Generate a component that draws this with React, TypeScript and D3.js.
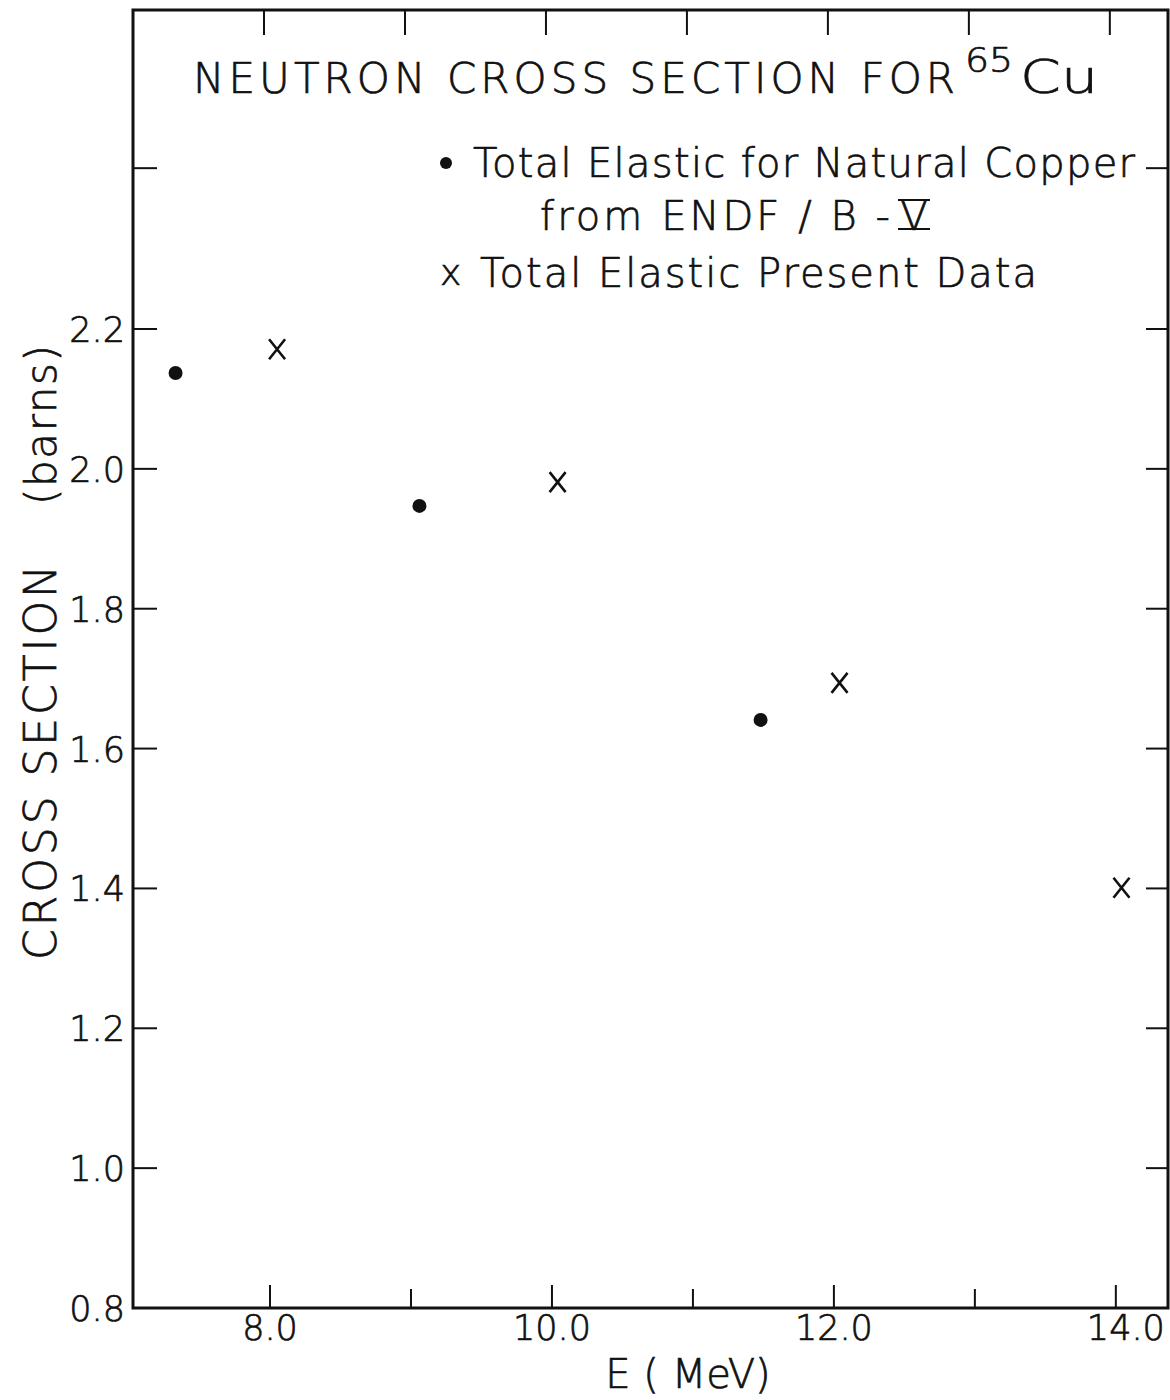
import React from 'react';
import * as d3 from 'd3';

const endfEnergy = [7.33, 9.06, 11.48];
const endfSigma = [2.137, 1.947, 1.641];
const presentEnergy = [8.05, 10.04, 12.04, 14.04];
const presentSigma = [2.171, 1.981, 1.694, 1.401];
const xMajorTicks = [8, 10, 12, 14];
const xMajorLabels = ['8.0', '10.0', '12.0', '14.0'];
const xMinorTicks = [9, 11, 13];
const yTicks = [0.8, 1.0, 1.2, 1.4, 1.6, 1.8, 2.0, 2.2, 2.43];
const yTickLabels = ['0.8', '1.0', '1.2', '1.4', '1.6', '1.8', '2.0', '2.2', ''];

const FONT = '"DejaVu Sans", Lato, sans-serif';

export default function App() {
  const left = 133, right = 1168, top = 10, bottom = 1308;
  const x = d3.scaleLinear().domain([7.028, 14.37]).range([left, right]);
  const y = d3.scaleLinear().domain([0.8, 2.2]).range([bottom, 329]);
  const sw = 3;
  const tStyle: React.CSSProperties = { fontVariantLigatures: 'none' };
  return (
    <svg width={1170} height={1400} style={{ position: 'absolute', left: 0, top: 0, background: '#fff' }}
      fontFamily={FONT} fontWeight={200} fill="#111">
      <rect x={0} y={0} width={1170} height={1400} fill="#fff" />
      {/* frame */}
      <path d={`M${left},${top}H${right}V${bottom}H${left}Z`} fill="none" stroke="#111" strokeWidth={sw} />
      {/* bottom ticks */}
      {xMajorTicks.map((t) => (
        <line key={'bx' + t} x1={x(t)} x2={x(t)} y1={bottom} y2={bottom - 23} stroke="#111" strokeWidth={2} />
      ))}
      {xMinorTicks.map((t) => (
        <line key={'bm' + t} x1={x(t)} x2={x(t)} y1={bottom} y2={bottom - 19} stroke="#111" strokeWidth={2} />
      ))}
      {/* top ticks */}
      {[...xMajorTicks, ...xMinorTicks].map((t) => (
        <line key={'tx' + t} x1={x(t) - 6} x2={x(t) - 6} y1={top} y2={top + 25} stroke="#111" strokeWidth={2} />
      ))}
      {/* left ticks */}
      {yTicks.map((t) => (
        <line key={'ly' + t} x1={left} x2={left + 24} y1={y(t)} y2={y(t)} stroke="#111" strokeWidth={2} />
      ))}
      {/* right ticks */}
      {yTicks.slice(1).map((t) => (
        <line key={'ry' + t} x1={right} x2={right - 22} y1={y(t)} y2={y(t)} stroke="#111" strokeWidth={2} />
      ))}
      <g stroke="#111" strokeWidth={0.7}>
        {/* y tick labels */}
        {yTicks.map((t, i) => (
          <text key={'yl' + t} x={125} y={y(t) + 13} fontSize={35} textAnchor="end">{yTickLabels[i]}</text>
        ))}
        {/* x tick labels */}
        {xMajorTicks.map((t, i) => (
          <text key={'xl' + t} x={x(t) + (i === 3 ? 10 : 0)} y={1340} fontSize={35} textAnchor="middle">{xMajorLabels[i]}</text>
        ))}
        {/* axis titles */}
        <text x={688} y={1388} fontSize={40} textAnchor="middle">E  ( MeV)</text>
        <text transform="translate(56,960) rotate(-90)" fontSize={44} textLength={395} lengthAdjust="spacing">CROSS SECTION</text>
        <text transform="translate(56,505) rotate(-90)" fontSize={42} textLength={160} lengthAdjust="spacing">(barns)</text>
        {/* title */}
        <text x={193} y={93} fontSize={42} textLength={762} lengthAdjust="spacing" style={tStyle}>NEUTRON  CROSS SECTION  FOR</text>
        <text x={965} y={72} fontSize={34} textLength={48} lengthAdjust="spacingAndGlyphs">65</text>
        <text x={1020} y={93} fontSize={46} textLength={78} lengthAdjust="spacingAndGlyphs">Cu</text>
        {/* legend */}
        <text x={473} y={177} fontSize={40} textLength={662} lengthAdjust="spacing" style={tStyle}>Total  Elastic  for  Natural  Copper</text>
        <text x={540} y={230} fontSize={40} textLength={350} lengthAdjust="spacing" style={tStyle}>from  ENDF / B -</text>
        <text x={900} y={230} fontSize={40} textLength={28} lengthAdjust="spacingAndGlyphs">V</text>
        <text x={440} y={285} fontSize={36}>x</text>
        <text x={480} y={287} fontSize={40} textLength={557} lengthAdjust="spacing" style={tStyle}>Total  Elastic  Present  Data</text>
      </g>
      <circle cx={446} cy={163} r={6} fill="#111" />
      <line x1={898} x2={930} y1={200} y2={200} stroke="#111" strokeWidth={2} />
      <line x1={898} x2={930} y1={229} y2={229} stroke="#111" strokeWidth={2} />
      {/* data */}
      {endfEnergy.map((e, i) => (
        <circle key={'d' + i} cx={x(e)} cy={y(endfSigma[i])} r={7} fill="#111" />
      ))}
      {presentEnergy.map((e, i) => {
        const cx = x(e), cy = y(presentSigma[i]);
        return (
          <path key={'c' + i} d={`M${cx - 8},${cy - 10}L${cx + 8},${cy + 10}M${cx + 8},${cy - 10}L${cx - 8},${cy + 10}`}
            stroke="#111" strokeWidth={2.6} fill="none" />
        );
      })}
    </svg>
  );
}
